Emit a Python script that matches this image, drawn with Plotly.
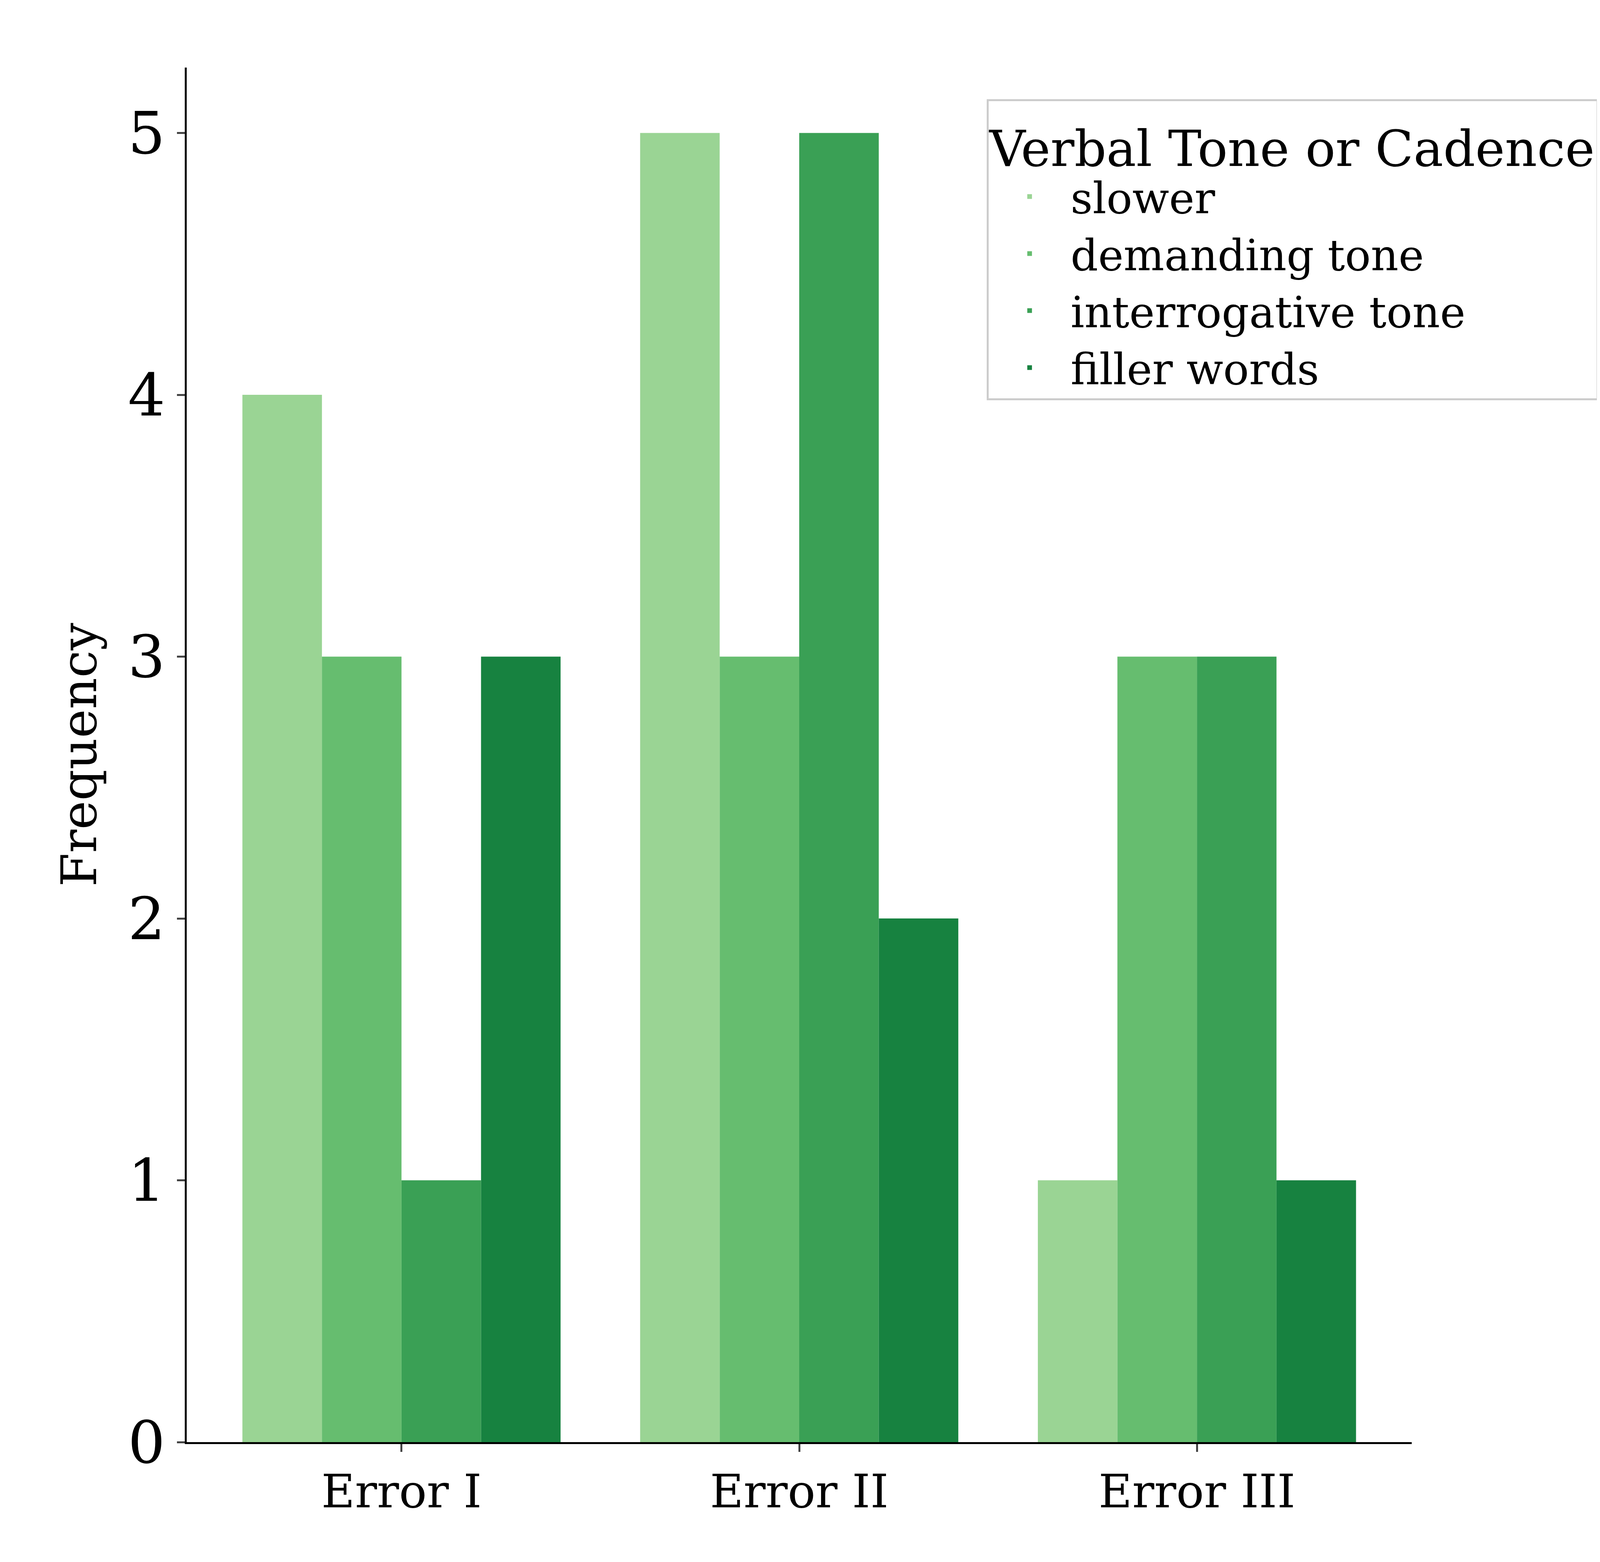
import plotly.graph_objects as go

categories = ["Error I", "Error II", "Error III"]
series_names = ["slower", "demanding tone", "interrogative tone", "filler words"]
slower = [4, 5, 1]
demanding = [3, 3, 3]
interrogative = [1, 5, 3]
filler = [3, 2, 1]
colors = ["#9ad494", "#66bd6f", "#3aa055", "#178240"]

fig = go.Figure()
for name, vals, col in zip(series_names, [slower, demanding, interrogative, filler], colors):
    fig.add_trace(go.Bar(x=categories, y=vals, name=name, marker=dict(color=col, line=dict(width=0))))

font = "DejaVu Serif"
fig.update_layout(
    autosize=True,
    barmode="group", bargap=0.2, bargroupgap=0,
    plot_bgcolor="white", paper_bgcolor="white",
    font=dict(family=font, color="black"),
    margin=dict(l=470, r=130, t=165, b=315),
    xaxis=dict(range=[-0.54, 2.54], showline=True, linecolor="black", linewidth=5,
               ticks="outside", ticklen=20, tickwidth=5, tickfont=dict(size=118, family=font),
               showgrid=False),
    yaxis=dict(range=[0, 5.25], dtick=1, showline=True, linecolor="black", linewidth=5,
               ticks="outside", ticklen=20, tickwidth=5, tickfont=dict(size=150, family=font),
               showgrid=False, zeroline=False,
               title=dict(text="Frequency", font=dict(size=125, family=font), standoff=40)),
    legend=dict(x=0.653, y=0.977, xanchor="left", yanchor="top",
                bordercolor="#cccccc", borderwidth=5, bgcolor="white",
                font=dict(size=110, family=font),
                title=dict(text="Verbal Tone or Cadence", font=dict(size=128, family=font)),
                itemwidth=200, tracegroupgap=20),
)
fig.write_html("out.html", default_width="100vw", default_height="100vh")
